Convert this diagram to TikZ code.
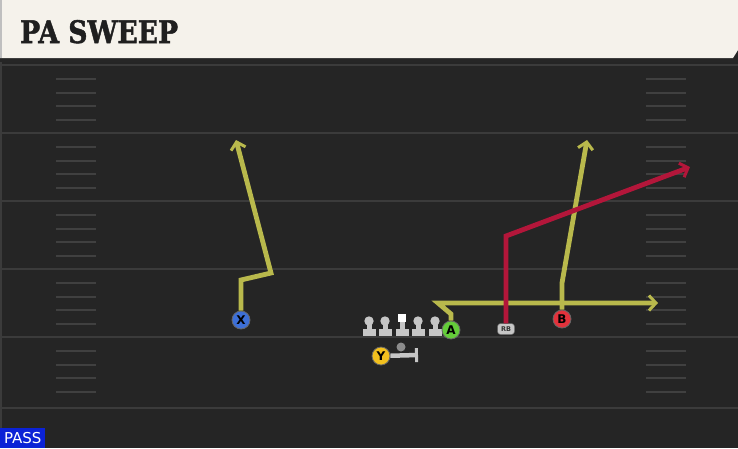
\documentclass[tikz,border=0pt]{standalone}
\usepackage{fontspec}
\usepackage{tikz}
\usetikzlibrary{arrows.meta}
\newfontfamily\titlefont[BoldFeatures={FakeBold=1.6}]{DejaVu Serif}
\newfontfamily\labelfont{DejaVu Sans}

\definecolor{field}{HTML}{252525}
\definecolor{yardline}{HTML}{3B3B3B}
\definecolor{hashline}{HTML}{404040}
\definecolor{header}{HTML}{F5F2EB}
\definecolor{routeyellow}{HTML}{B9B94C}
\definecolor{routered}{HTML}{B3163A}
\definecolor{lineman}{HTML}{C6C6C6}
\definecolor{blueX}{HTML}{3D6FD6}
\definecolor{greenA}{HTML}{64CC3A}
\definecolor{redB}{HTML}{E2323C}
\definecolor{yellowY}{HTML}{F2C01E}
\definecolor{passblue}{HTML}{0B22D6}

\begin{document}
\begin{tikzpicture}[x=1pt, y=-1pt,
    player/.style={circle, draw=black!60, line width=0.8pt, inner sep=0pt,
        minimum size=18pt, font=\labelfont\bfseries\fontsize{12}{12}\selectfont},
    route/.style={line width=4.8pt, -{Straight Barb[length=7pt, width=15pt, line width=3pt]}},
    yard/.style={yardline, line width=2pt},
    hash/.style={hashline, line width=1.5pt}]

    \useasboundingbox (0,0) rectangle (738,448);

    % draw field
    \fill[field] (0,0) rectangle (738,448);
    \fill[yardline] (0,60) rectangle (2,448);
    \foreach \y in {65,133,201,269,337,408}
        \draw[yard] (0,\y) -- (738,\y);
    \foreach \y in {65,133,201,269,337}
        \foreach \d in {14,28,41,55} {
            \draw[hash] (56,\y+\d) -- (96,\y+\d);
            \draw[hash] (646,\y+\d) -- (686,\y+\d);
        }

    % draw header
    \fill[black!85] (0,58) rectangle (738,62);
    \fill[header] (0,0) -- (738,0) -- (738,50) -- (733,58) -- (0,58) -- cycle;
    \fill[black!25] (0,0) rectangle (2,58);
    \node[anchor=base west, inner sep=0pt, text=black!88,
        font=\titlefont\bfseries\fontsize{31}{31}\selectfont]
        (title) at (20,43) {\scalebox{0.86}[1]{PA SWEEP}};

    % draw line
    \foreach \x in {369,385,402,418,435} {
        \fill[lineman] (\x-6.5,329) rectangle (\x+6.5,336);
        \fill[lineman] (\x-2.5,321) rectangle (\x+2.5,330);
    }
    \foreach \x in {369,385,418,435}
        \fill[lineman] (\x,321) circle (4.7);
    \fill[white] (398,314) rectangle (406,322);

    % draw nodes
    \foreach \t/\x/\y/\c in {X/241/320/blueX, A/451/330/greenA, B/562/319/redB, Y/381/356/yellowY}
        \node [player, fill=\c]
            (p\t) at (\x, \y) {\t};
    \node [rounded corners=3pt, fill=lineman, draw=black!60, line width=0.5pt,
        minimum width=17pt, minimum height=11pt, inner sep=0pt,
        font=\labelfont\bfseries\fontsize{6.5}{6.5}\selectfont, text=black!80]
        (pRB) at (506,329) {RB};
    \node [circle, fill=black!45, minimum size=9pt, inner sep=0pt]
        (pQB) at (401,347) {};

    % route points
    \coordinate (x1) at (241,280);
    \coordinate (x2) at (271,273);
    \coordinate (x3) at (236,140);
    \coordinate (a1) at (451,314);
    \coordinate (a2) at (438,303);
    \coordinate (a3) at (658,303);
    \coordinate (b1) at (562,283);
    \coordinate (b2) at (587,140);
    \coordinate (r1) at (506,236);
    \coordinate (r2) at (690,167);
    \coordinate (yb) at (418,355);

    % draw edges
    \draw[route, routeyellow] (pX) -- (x1) -- (x2) -- (x3);
    \draw[route, routeyellow] (pA) -- (a1) -- (a2) -- (a3);
    \draw[route, routeyellow] (pB) -- (b1) -- (b2);
    \draw[route, routered] (pRB) -- (r1) -- (r2);
    \draw[lineman, line width=4.5pt, -{Bar[width=14pt, line width=3pt]}] (pY) -- (yb);

    % play type
    \node[fill=passblue, text=white, anchor=south west, inner sep=0pt,
        minimum width=45pt, minimum height=20pt,
        font=\labelfont\fontsize{15}{15}\selectfont]
        (type) at (0,448) {PASS};
\end{tikzpicture}
\end{document}
